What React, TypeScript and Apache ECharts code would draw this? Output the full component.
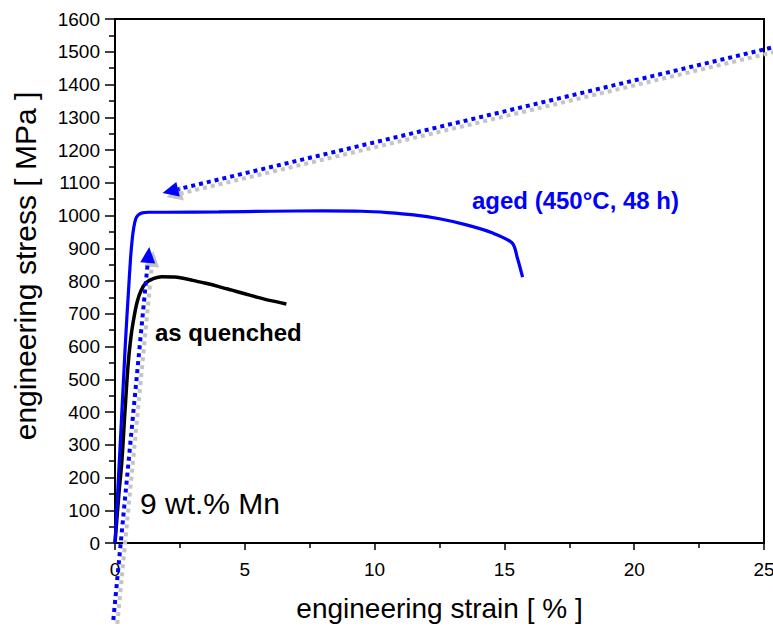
import { useEffect, useRef } from "react";
import * as echarts from "echarts";

// aged (450°C, 48 h) curve
const agedStrain = [0, 0.2, 0.4, 0.52, 0.6, 0.66, 0.72, 0.8, 0.9, 1.05, 1.3, 2, 4, 6, 8, 9.5, 10.5, 11.5, 12.5, 13.5, 14.5, 15.3, 15.5, 15.7];
const agedStress = [0, 300, 610, 770, 870, 925, 962, 990, 1002, 1008, 1010, 1010, 1011, 1013, 1014, 1013, 1009, 1002, 990, 972, 948, 916, 870, 812];

// as quenched curve
const quenchedStrain = [0, 0.15, 0.26, 0.38, 0.5, 0.6, 0.7, 0.85, 1.0, 1.2, 1.5, 1.8, 2.3, 3, 3.5, 4, 4.5, 5, 5.5, 6, 6.6];
const quenchedStress = [0, 150, 245, 397, 540, 620, 675, 735, 770, 795, 808, 813, 812, 802, 793, 783, 772, 761, 750, 740, 730];

// dotted arrows: [fromStrain, fromStress, toStrain, toStress]
const arrowLong = [25.27, 1512, 1.83, 1069];
const arrowShort = [-0.065, -235, 1.32, 904];

const xTickMin = 0;
const xTickMax = 25;
const xTickStep = 5;
const yTickMin = 0;
const yTickMax = 1600;
const yTickStep = 100;

const FONT = '"Liberation Sans", Arial, Helvetica, sans-serif';

function makeArrowSeries(color: string, offset: [number, number], z: number) {
  return {
    type: "custom",
    z,
    silent: true,
    clip: false,
    encode: { x: [0, 2], y: [1, 3] },
    data: [arrowLong, arrowShort],
    renderItem: (params: any, api: any) => {
      const p1 = api.coord([api.value(0), api.value(1)]);
      const p2 = api.coord([api.value(2), api.value(3)]);
      const dx = p2[0] - p1[0];
      const dy = p2[1] - p1[1];
      const len = Math.hypot(dx, dy) || 1;
      const ux = dx / len;
      const uy = dy / len;
      const hl = 16;
      const hw = 7.5;
      const bx = p2[0] - ux * hl;
      const by = p2[1] - uy * hl;
      const ox = offset[0];
      const oy = offset[1];
      return {
        type: "group",
        children: [
          {
            type: "line",
            shape: { x1: p1[0] + ox, y1: p1[1] + oy, x2: bx + ox, y2: by + oy },
            style: { stroke: color, lineWidth: 4, lineDash: [4, 4], lineCap: "butt", fill: null },
          },
          {
            type: "polygon",
            shape: {
              points: [
                [p2[0] + ox, p2[1] + oy],
                [bx - uy * hw + ox, by + ux * hw + oy],
                [bx + uy * hw + ox, by - ux * hw + oy],
              ],
            },
            style: { fill: color, stroke: null },
          },
        ],
      };
    },
  };
}

export default function App() {
  const ref = useRef<HTMLDivElement>(null);

  useEffect(() => {
    if (!ref.current) return;
    const chart = echarts.init(ref.current, null, { renderer: "svg" });
    const option: any = {
      animation: false,
      backgroundColor: "#ffffff",
      textStyle: { fontFamily: FONT },
      grid: {
        left: 115,
        right: 9,
        top: 19,
        bottom: 85,
        show: true,
        borderColor: "#000",
        borderWidth: 2,
        backgroundColor: "transparent",
        containLabel: false,
        outerBoundsMode: "none",
      },
      xAxis: {
        type: "value",
        min: xTickMin,
        max: xTickMax,
        interval: xTickStep,
        name: "engineering strain [ % ]",
        nameLocation: "middle",
        nameGap: 51,
        nameTextStyle: { fontSize: 28, color: "#000", fontFamily: FONT },
        axisLine: { show: true, onZero: false, lineStyle: { color: "#000", width: 2 } },
        axisTick: { show: true, inside: false, length: 7, lineStyle: { color: "#000", width: 1.5 } },
        minorTick: { show: true, splitNumber: 2, length: 5, lineStyle: { color: "#000", width: 1.5 } },
        axisLabel: {
          fontSize: 19,
          color: "#000",
          margin: 17,
          fontFamily: FONT,
          showMinLabel: true,
          showMaxLabel: true,
          hideOverlap: false,
          formatter: (v: number) => String(v),
        },
        splitLine: { show: false },
      },
      yAxis: {
        type: "value",
        min: yTickMin,
        max: yTickMax,
        interval: yTickStep,
        name: "engineering stress [ MPa ]",
        nameLocation: "middle",
        nameGap: 75,
        nameRotate: 90,
        nameTextStyle: { fontSize: 30, color: "#000", fontFamily: FONT, padding: [0, 0, 0, 30] },
        axisLine: { show: true, onZero: false, lineStyle: { color: "#000", width: 2 } },
        axisTick: { show: true, inside: false, length: 10, lineStyle: { color: "#000", width: 1.5 } },
        minorTick: { show: true, splitNumber: 2, length: 6, lineStyle: { color: "#000", width: 1.5 } },
        axisLabel: {
          fontSize: 19,
          color: "#000",
          margin: 15,
          fontFamily: FONT,
          showMinLabel: true,
          showMaxLabel: true,
          hideOverlap: false,
          formatter: (v: number) => String(v),
        },
        splitLine: { show: false },
      },
      series: [
        makeArrowSeries("#c4c4c4", [4, 4], 1),
        {
          type: "line",
          name: "as quenched",
          data: quenchedStrain.map((s, i) => [s, quenchedStress[i]]),
          showSymbol: false,
          smooth: 0.3,
          lineStyle: { color: "#000", width: 3.5 },
          z: 3,
        },
        {
          type: "line",
          name: "aged (450°C, 48 h)",
          data: agedStrain.map((s, i) => [s, agedStress[i]]),
          showSymbol: false,
          smooth: 0.3,
          lineStyle: { color: "#0000ff", width: 3.2 },
          z: 3,
        },
        makeArrowSeries("#0000ff", [0, 0], 4),
      ],
      graphic: [
        {
          type: "text",
          x: 472,
          y: 200,
          style: {
            text: "aged (450°C, 48 h)",
            fill: "#0000ff",
            font: `bold 24px ${FONT}`,
            textAlign: "left",
            textVerticalAlign: "middle",
          },
        },
        {
          type: "text",
          x: 155,
          y: 332,
          style: {
            text: "as quenched",
            fill: "#000",
            font: `bold 24px ${FONT}`,
            textAlign: "left",
            textVerticalAlign: "middle",
          },
        },
        {
          type: "text",
          x: 140,
          y: 503,
          style: {
            text: "9 wt.% Mn",
            fill: "#000",
            font: `30px ${FONT}`,
            textAlign: "left",
            textVerticalAlign: "middle",
          },
        },
      ],
    };
    chart.setOption(option);
    return () => {
      chart.dispose();
    };
  }, []);

  return (
    <div
      ref={ref}
      style={{ position: "fixed", left: 0, top: 0, width: 773, height: 628, background: "#fff" }}
    />
  );
}
